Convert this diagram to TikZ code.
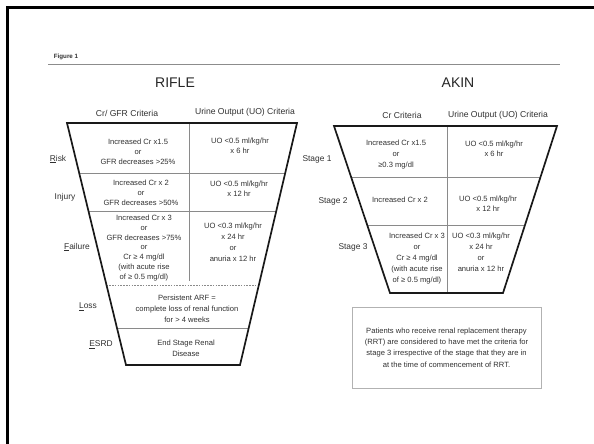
\documentclass[tikz,border=0pt]{standalone}
\usepackage{fontspec}
\setmainfont{Liberation Sans}
\usetikzlibrary{calc}
\definecolor{ink}{HTML}{303030}
\definecolor{rulegray}{HTML}{8A8A8A}

\tikzset{
  txt/.style={text=ink,font=\fontsize{7.6}{10}\selectfont,align=center,inner sep=0pt},
  hdr/.style={text=ink,font=\fontsize{8.6}{10}\selectfont,inner sep=0pt},
  lbl/.style={text=ink,font=\fontsize{8.4}{10}\selectfont,inner sep=0pt},
  ttl/.style={text=black!85,font=\fontsize{14}{16}\selectfont,inner sep=0pt},
  outline/.style={draw=black!90,line width=1.7pt},
  cut/.style={draw=rulegray,line width=0.9pt},
  note/.style={draw=black!30,line width=1pt,minimum width=189pt,minimum height=81pt,
    text=ink,font=\fontsize{7.6}{11.3}\selectfont,align=center}
}

\begin{document}
\begin{tikzpicture}[x=1pt,y=-1pt]
\useasboundingbox (0,0) rectangle (594,444);

% page frame and heading
\draw[line width=2.2pt] (7.5,444) -- (7.5,7.5) -- (594,7.5);
\node[inner sep=0pt,text=ink,font=\fontsize{6.2}{7}\selectfont\bfseries] (fig) at (66,57) {Figure 1};
\coordinate (hl) at (48,64);
\coordinate (hr) at (560,64);
\draw[draw=black!45,line width=0.7pt] (hl) -- (hr);

\node[ttl] (rifle) at (175,83) {RIFLE};
\node[ttl] (akin) at (458,83) {AKIN};

% RIFLE funnel
\coordinate (rTL) at (67,123);
\coordinate (rTR) at (297,123);
\coordinate (rBR) at (240,365);
\coordinate (rBL) at (126,365);
\coordinate (rDivT) at (189,123);
\coordinate (rDivB) at (189,281);
\draw[cut] (rDivT) -- (rDivB);
\draw[cut] ($(rTL)!0.2066!(rBL)$) -- ($(rTR)!0.2066!(rBR)$);
\draw[cut] ($(rTL)!0.3636!(rBL)$) -- ($(rTR)!0.3636!(rBR)$);
\draw[cut,dash pattern=on 1.6pt off 1.2pt] ($(rTL)!0.6694!(rBL)$) -- ($(rTR)!0.6694!(rBR)$);
\draw[cut] ($(rTL)!0.8471!(rBL)$) -- ($(rTR)!0.8471!(rBR)$);
\draw[outline] (rTL) -- (rTR) -- (rBR) -- (rBL) -- cycle;

\node[hdr] (rcr) at (127,113) {Cr/ GFR Criteria};
\node[hdr] (ruo) at (245,112) {Urine Output (UO) Criteria};

\node[lbl] (risk) at (58,159) {\underline{R}isk};
\node[lbl] (injury) at (65,197) {Injury};
\node[lbl] (failure) at (77,247) {\underline{F}ailure};
\node[lbl] (loss) at (88,307) {\underline{L}oss};
\node[lbl] (esrd) at (101,345) {\underline{E}SRD};

\node[txt] (riskcr) at (138,151.5) {Increased Cr x1.5\\or\\GFR decreases >25\%};
\node[txt] (riskuo) at (240,146) {UO <0.5 ml/kg/hr\\x 6 hr};
\node[txt] (injcr) at (141,193) {Increased Cr x 2\\or\\GFR decreases >50\%};
\node[txt] (injuo) at (239,189) {UO <0.5 ml/kg/hr\\x 12 hr};
\node[txt,font=\fontsize{7.6}{9.7}\selectfont] (failcr) at (144,248) {Increased Cr x 3\\or\\GFR decreases >75\%\\or\\Cr ≥ 4 mg/dl\\(with acute rise\\of ≥ 0.5 mg/dl)};
\node[txt,font=\fontsize{7.6}{11}\selectfont] (failuo) at (233,242.5) {UO <0.3 ml/kg/hr\\x 24 hr\\or\\anuria x 12 hr};
\node[txt,font=\fontsize{7.6}{11}\selectfont] (losstxt) at (187,309) {Persistent ARF =\\complete loss of renal function\\for > 4 weeks};
\node[txt,font=\fontsize{7.6}{11}\selectfont] (esrdtxt) at (186,348.5) {End Stage Renal\\Disease};

% AKIN funnel
\coordinate (aTL) at (334,126);
\coordinate (aTR) at (557,126);
\coordinate (aBR) at (503,293);
\coordinate (aBL) at (390,293);
\coordinate (aDivT) at (447,126);
\coordinate (aDivB) at (447,293);
\draw[cut] (aDivT) -- (aDivB);
\draw[cut] ($(aTL)!0.3054!(aBL)$) -- ($(aTR)!0.3054!(aBR)$);
\draw[cut] ($(aTL)!0.5928!(aBL)$) -- ($(aTR)!0.5928!(aBR)$);
\draw[outline] (aTL) -- (aTR) -- (aBR) -- (aBL) -- cycle;

\node[hdr] (acr) at (402,115) {Cr Criteria};
\node[hdr] (auo) at (498,115) {Urine Output (UO) Criteria};

\node[lbl] (st1) at (317,159) {Stage 1};
\node[lbl] (st2) at (333,201) {Stage 2};
\node[lbl] (st3) at (353,247) {Stage 3};

\node[txt,font=\fontsize{7.6}{11}\selectfont] (st1cr) at (396,155) {Increased Cr x1.5\\or\\≥0.3 mg/dl};
\node[txt] (st1uo) at (494,148.5) {UO <0.5 ml/kg/hr\\x 6 hr};
\node[txt] (st2cr) at (400,200) {Increased Cr x 2};
\node[txt] (st2uo) at (488,204) {UO <0.5 ml/kg/hr\\x 12 hr};
\node[txt,font=\fontsize{7.6}{11.2}\selectfont] (st3cr) at (417,258.5) {Increased Cr x 3\\or\\Cr ≥ 4 mg/dl\\(with acute rise\\of ≥ 0.5 mg/dl)};
\node[txt,font=\fontsize{7.6}{11}\selectfont] (st3uo) at (481,252.5) {UO <0.3 ml/kg/hr\\x 24 hr\\or\\anuria x 12 hr};

\node[note] (rrt) at (446.5,347.5) {Patients who receive renal replacement therapy\\(RRT) are considered to have met the criteria for\\stage 3 irrespective of the stage that they are in\\at the time of commencement of RRT.};
\end{tikzpicture}
\end{document}
